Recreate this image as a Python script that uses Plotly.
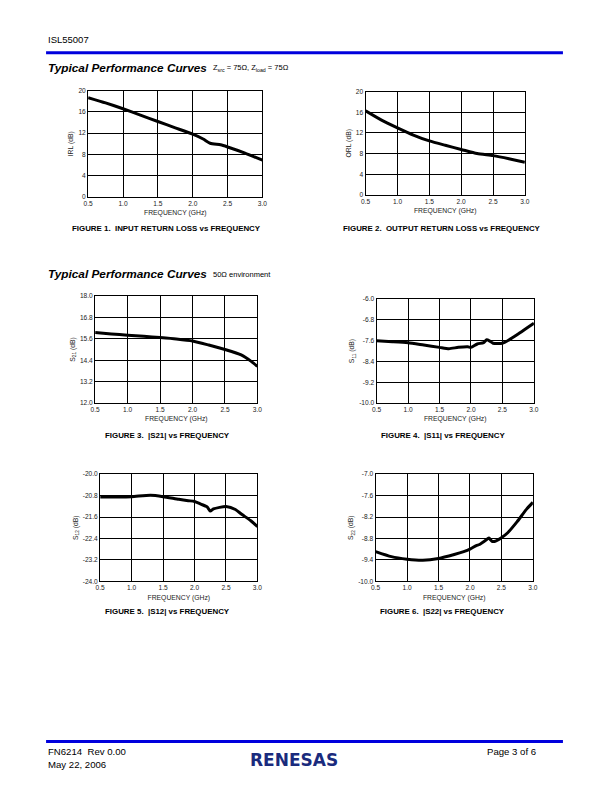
import plotly.graph_objects as go

W, H = 612, 792

# ---------------- data ----------------
f1 = [0.5, 0.75, 1.0, 1.25, 1.5, 1.75, 2.0, 2.15, 2.25, 2.4, 2.5, 2.75, 3.0]
irl = [18.7, 17.7, 16.6, 15.4, 14.2, 13.0, 11.8, 10.9, 10.1, 9.8, 9.4, 8.25, 6.9]

f2 = [0.5, 0.75, 1.0, 1.25, 1.5, 1.75, 2.0, 2.25, 2.5, 2.75, 3.0]
orl = [16.3, 14.5, 13.0, 11.6, 10.45, 9.6, 8.8, 8.0, 7.6, 7.0, 6.3]

f3 = [0.5, 0.75, 1.0, 1.25, 1.5, 1.75, 2.0, 2.25, 2.5, 2.75, 2.9, 3.0]
s21 = [15.95, 15.87, 15.8, 15.74, 15.67, 15.59, 15.48, 15.25, 15.0, 14.7, 14.35, 14.05]

f4 = [0.5, 0.75, 1.0, 1.25, 1.5, 1.65, 1.8, 1.95, 2.0, 2.1, 2.2, 2.25, 2.3, 2.35, 2.5, 2.6, 2.75, 2.9, 3.0]
s11 = [-7.61, -7.64, -7.68, -7.77, -7.86, -7.91, -7.86, -7.84, -7.86, -7.73, -7.68, -7.57, -7.62, -7.70, -7.70, -7.58, -7.35, -7.10, -6.93]

f5 = [0.5, 0.75, 1.0, 1.3, 1.5, 1.75, 1.9, 2.0, 2.1, 2.2, 2.25, 2.3, 2.4, 2.5, 2.65, 2.75, 2.9, 3.0]
s12 = [-20.85, -20.85, -20.84, -20.79, -20.84, -20.94, -20.99, -21.02, -21.12, -21.22, -21.38, -21.30, -21.24, -21.21, -21.32, -21.50, -21.75, -21.96]

f6 = [0.5, 0.75, 1.0, 1.25, 1.5, 1.75, 1.9, 2.0, 2.1, 2.15, 2.25, 2.3, 2.35, 2.4, 2.5, 2.6, 2.75, 2.9, 3.0]
s22 = [-9.17, -9.31, -9.38, -9.41, -9.36, -9.25, -9.17, -9.10, -9.0, -8.97, -8.85, -8.79, -8.88, -8.88, -8.78, -8.64, -8.33, -7.98, -7.79]

x_ticks = [0.5, 1.0, 1.5, 2.0, 2.5, 3.0]
y1_ticks = [0, 4, 8, 12, 16, 20]
y2_ticks = [0, 4, 8, 12, 16, 20]
y3_ticks = [12.0, 13.2, 14.4, 15.6, 16.8, 18.0]
y4_ticks = [-10.0, -9.2, -8.4, -7.6, -6.8, -6.0]
y5_ticks = [-24.0, -23.2, -22.4, -21.6, -20.8, -20.0]
y6_ticks = [-10.0, -9.4, -8.8, -8.2, -7.6, -7.0]

captions = ["FIGURE 1.  INPUT RETURN LOSS vs FREQUENCY",
            "FIGURE 2.  OUTPUT RETURN LOSS vs FREQUENCY",
            "FIGURE 3.  |S21| vs FREQUENCY",
            "FIGURE 4.  |S11| vs FREQUENCY",
            "FIGURE 5.  |S12| vs FREQUENCY",
            "FIGURE 6.  |S22| vs FREQUENCY"]
ytitles = ["IRL (dB)", "ORL (dB)", "S<sub>21</sub> (dB)", "S<sub>11</sub> (dB)",
           "S<sub>12</sub> (dB)", "S<sub>22</sub> (dB)"]

# ---------------- layout geometry (target pixels) ----------------
# small correction for the capture: shown = s*page + b
SX, BX, SY, BY = 0.982, 6.0, 0.99, 4.4


def X(px):
    return ((px - BX) / SX) / W


def Y(py):
    return 1 - ((py - BY) / SY) / H


boxes = [  # left, right, top, bottom
    (89, 263, 91, 197),
    (366, 525, 92, 195),
    (96, 258, 296, 403),
    (377, 534, 299, 403),
    (101, 258, 474, 581),
    (376, 533, 474, 581),
]
yfmt = ["{:.0f}", "{:.0f}", "{:.1f}", "{:.1f}", "{:.1f}", "{:.1f}"]
cap_pos = [(167, 229), (442, 229), (168, 435), (443, 435), (168, 611), (443, 611)]

series = [(f1, irl, y1_ticks), (f2, orl, y2_ticks), (f3, s21, y3_ticks),
          (f4, s11, y4_ticks), (f5, s12, y5_ticks), (f6, s22, y6_ticks)]

fig = go.Figure()
FONT = "Liberation Sans, Arial, sans-serif"
tickfont = dict(family=FONT, size=6.6, color="#222")
annotations = []
layout = {}

for i, ((fx, fy, yt), (l, r, t, b)) in enumerate(zip(series, boxes)):
    n = i + 1
    xa = "x" if n == 1 else f"x{n}"
    ya = "y" if n == 1 else f"y{n}"
    fig.add_trace(go.Scatter(x=fx, y=fy, mode="lines",
                             line=dict(color="black", width=3, shape="spline", smoothing=0.6),
                             xaxis=xa, yaxis=ya, showlegend=False, hoverinfo="skip"))
    common = dict(showgrid=True, gridcolor="black", gridwidth=1, showline=True, linecolor="black",
                  linewidth=1.2, mirror=True, ticks="", tickfont=tickfont, zeroline=False)
    layout["xaxis" if n == 1 else f"xaxis{n}"] = dict(
        domain=[X(l), X(r)], anchor=ya, range=[0.5, 3.0], tickvals=x_ticks,
        ticktext=[f"{v:.1f}" for v in x_ticks],
        title=dict(text="FREQUENCY (GHz)", font=dict(family=FONT, size=6.8, color="#222"), standoff=4),
        **common)
    layout["yaxis" if n == 1 else f"yaxis{n}"] = dict(
        domain=[Y(b), Y(t)], anchor=xa, range=[yt[0], yt[-1]], tickvals=yt,
        ticktext=[yfmt[i].format(v) for v in yt],
        title=dict(text=ytitles[i], font=dict(family=FONT, size=6.8, color="#222"), standoff=3),
        **common)
    cx, cy = cap_pos[i]
    annotations.append(dict(text="<b>" + captions[i] + "</b>", x=X(cx), y=Y(cy),
                            xanchor="center", yanchor="middle",
                            font=dict(family=FONT, size=7.9, color="black")))

# page text
annotations += [
    dict(text="ISL55007", x=X(47), y=Y(40), xanchor="left", yanchor="middle",
         font=dict(family=FONT, size=9.5, color="black")),
    dict(text="<b><i>Typical Performance Curves</i></b>", x=X(47), y=Y(68), xanchor="left",
         yanchor="middle", font=dict(family=FONT, size=11.8, color="black")),
    dict(text="Z<sub>src</sub> = 75Ω, Z<sub>load</sub> = 75Ω", x=X(212), y=Y(68), xanchor="left",
         yanchor="middle", font=dict(family=FONT, size=7.5, color="black")),
    dict(text="<b><i>Typical Performance Curves</i></b>", x=X(47), y=Y(274), xanchor="left",
         yanchor="middle", font=dict(family=FONT, size=11.8, color="black")),
    dict(text="50Ω environment", x=X(212), y=Y(275), xanchor="left",
         yanchor="middle", font=dict(family=FONT, size=7.5, color="black")),
    dict(text="FN6214  Rev 0.00", x=X(47), y=Y(751), xanchor="left", yanchor="middle",
         font=dict(family=FONT, size=9.6, color="black")),
    dict(text="May 22, 2006", x=X(47), y=Y(764), xanchor="left", yanchor="middle",
         font=dict(family=FONT, size=9.6, color="black")),
    dict(text="Page 3 of 6", x=X(538), y=Y(751), xanchor="right", yanchor="middle",
         font=dict(family=FONT, size=9.6, color="black")),
    dict(text="<b>RENESAS</b>", x=X(295), y=Y(760), xanchor="center", yanchor="middle",
         font=dict(family="DejaVu Sans, sans-serif", size=17, color="#1a2b7d")),
]
for a in annotations:
    a.setdefault("xref", "paper")
    a.setdefault("yref", "paper")
    a.setdefault("showarrow", False)

shapes = [
    dict(type="line", xref="paper", yref="paper", x0=X(47), x1=X(563), y0=Y(53), y1=Y(53),
         line=dict(color="#0000dd", width=3)),
    dict(type="line", xref="paper", yref="paper", x0=X(47), x1=X(563), y0=Y(741), y1=Y(741),
         line=dict(color="#0000dd", width=3)),
]

fig.update_layout(width=W, height=H, margin=dict(l=0, r=0, t=0, b=0), paper_bgcolor="white",
                  plot_bgcolor="white", annotations=annotations, shapes=shapes, **layout)
fig.write_html("out.html", config={"displayModeBar": False},
               post_script="document.body.style.margin='0';document.body.style.padding='0';"
                           "document.documentElement.style.overflow='hidden';")
